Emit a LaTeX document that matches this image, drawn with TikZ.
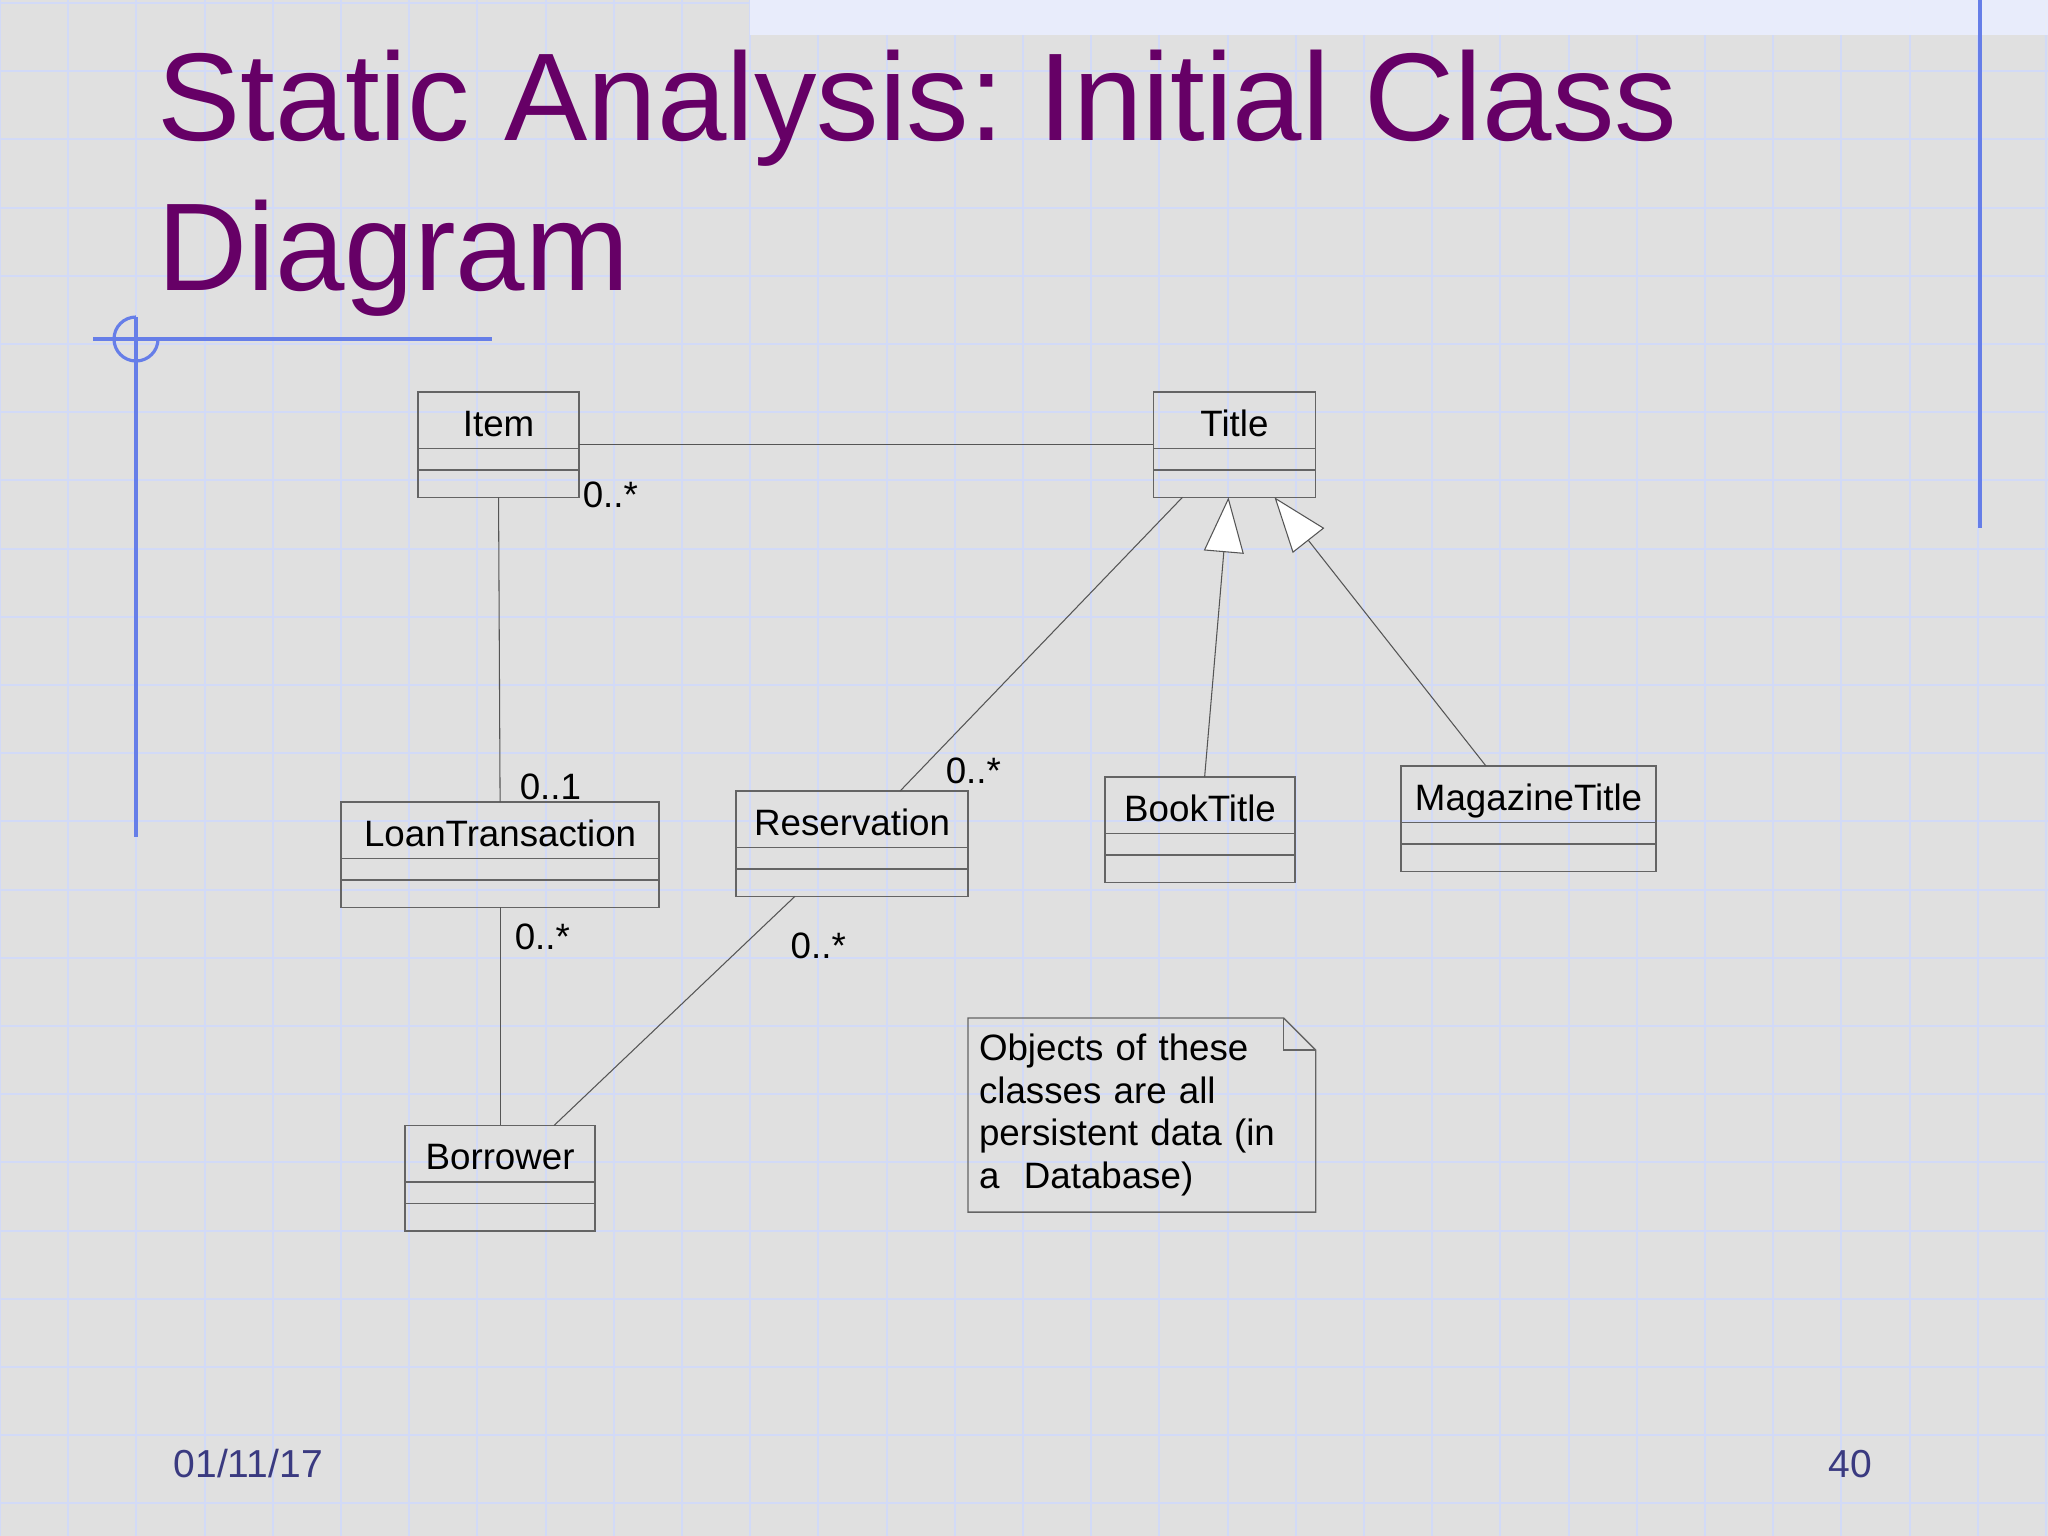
\documentclass[tikz,border=0pt]{standalone}
\usepackage{fontspec}
\setmainfont{Liberation Sans}
\usetikzlibrary{arrows.meta,positioning,shapes.multipart,calc}

\definecolor{slidebg}{RGB}{224,224,224}
\definecolor{gridblue}{RGB}{210,218,247}
\definecolor{rulerblue}{RGB}{102,126,232}
\definecolor{titlepurple}{RGB}{102,0,102}
\definecolor{footblue}{RGB}{58,58,128}
\definecolor{boxgray}{RGB}{100,100,100}
\definecolor{bandblue}{RGB}{232,236,251}

\newcommand{\clsfont}{\fontsize{10.44pt}{12.15pt}\selectfont}
% class name plus two empty compartments
\newcommand{\cls}[1]{\rule[-1.15mm]{0pt}{5.5mm}#1\nodepart{two}\rule{0pt}{2.0mm}\nodepart{three}\rule{0pt}{2.55mm}}

\tikzset{
    %Define standard arrow tip
    >={Triangle[length=5.5mm,width=4mm,fill=white]},
    %Define style for class boxes
    umlclass/.style={
           rectangle split,
           rectangle split parts=3,
           draw=boxgray, line width=0.45pt,
           inner xsep=0pt, inner ysep=0pt, outer sep=0pt,
           text width=#1,
           align=center,
           font=\clsfont,
           anchor=north west},
    % Define style for the note
    notebox/.style={
           inner xsep=1.1mm, inner ysep=0pt, outer sep=0pt,
           align=left,
           font=\clsfont,
           anchor=north west},
    notedraw/.style={draw=boxgray, line width=0.4pt},
    % multiplicities
    mult/.style={font=\clsfont, inner sep=0pt, anchor=base west},
    % Define connector styles
    assoc/.style={draw=boxgray!85!black, line width=0.3pt},
    inherit/.style={assoc, ->},
    gridline/.style={draw=gridblue, line width=0.6pt},
    ruler/.style={draw=rulerblue, line width=0.9pt},
    slidetitle/.style={font=\fontsize{35.5pt}{42pt}\selectfont\frenchspacing, text=titlepurple, inner sep=0pt, anchor=base west},
    footer/.style={font=\fontsize{11.1pt}{13pt}\selectfont, text=footblue, inner sep=0pt, anchor=base west}
}

\begin{document}
\begin{tikzpicture}[x=0.01cm,y=-0.01cm]
\useasboundingbox (0,0) rectangle (2048,1536);
% slide background
\fill[slidebg] (0,0) rectangle (2048,1536);
\foreach \i in {0,...,30}
    \draw[gridline] (\i*68.2,0) -- (\i*68.2,1536);
\foreach \j in {0,...,22}
    \draw[gridline] (0,3+\j*68.2) -- (2048,3+\j*68.2);
\fill[bandblue] (750,0) rectangle (2048,35);
\draw[ruler] (93,339) -- (492,339);
\draw[ruler] (136,317) -- (136,837);
\draw[ruler] (136,317) arc[start angle=90,end angle=360,radius=2.2mm];
\draw[ruler] (1980,0) -- (1980,528);

\node[slidetitle] (head) at (157,140) {Static Analysis: Initial Class};
\node[slidetitle] (head2) at (157,290) {Diagram};

% classes
\node[umlclass=1.61cm] (Item) at (418,392) {\cls{Item}};
\node[umlclass=1.62cm] (Title) at ([xshift=5.74cm]Item.north east) {\cls{Title}};
\node[umlclass=3.18cm] (LoanTransaction) at (341,802) {\cls{LoanTransaction}};
\node[umlclass=1.90cm, anchor=north] (Borrower) at ([yshift=-2.18cm]LoanTransaction.south) {\cls{Borrower}};
\node[umlclass=2.32cm] (Reservation) at (736,791) {\cls{Reservation}};
\node[umlclass=1.90cm] (BookTitle) at (1105,777) {\cls{BookTitle}};
\node[umlclass=2.55cm] (MagazineTitle) at (1401,766) {\cls{MagazineTitle}};

% note
\node[notebox, text width=3.255cm, minimum height=1.94cm] (note) at (968,1018)
    {Objects of these\\classes are all\\persistent data (in\\a\ \ Database)};
\draw[notedraw] (note.north west) -- ([xshift=-3.2mm]note.north east) -- ([yshift=-3.2mm]note.north east)
    -- (note.south east) -- (note.south west) -- cycle;
\draw[notedraw] ([xshift=-3.2mm]note.north east) |- ([yshift=-3.2mm]note.north east);

% associations
\path[assoc]
    ([yshift=-5.2mm]Item.north east) edge ([yshift=-5.2mm]Title.north west)
    (Item.south) edge (LoanTransaction.north)
    (LoanTransaction.south) edge (Borrower.north);
\draw[assoc] ($(Reservation.south west)!0.254!(Reservation.south east)$) -- ($(Borrower.north west)!0.784!(Borrower.north east)$);
\draw[assoc] ($(Reservation.north west)!0.707!(Reservation.north east)$) -- ($(Title.south west)!0.179!(Title.south east)$);
% generalisations
\draw[inherit] ($(BookTitle.north west)!0.524!(BookTitle.north east)$) -- ($(Title.south west)!0.463!(Title.south east)$);
\draw[inherit] ($(MagazineTitle.north west)!0.333!(MagazineTitle.north east)$) -- ($(Title.south west)!0.747!(Title.south east)$);

% multiplicities
\node[mult] (mItem) at ([shift={(0.3mm,-1.0mm)}]Item.south east) {0..*};
\node[mult] (mLoanTop) at ([shift={(1.9mm,0.3mm)}]LoanTransaction.north) {0..1};
\node[mult] (mLoanBot) at ([shift={(1.4mm,-4.2mm)}]LoanTransaction.south) {0..*};
\node[mult] (mResBot) at ([shift={(-6.2mm,-6.2mm)}]Reservation.south) {0..*};
\node[mult] (mResTop) at ([shift={(-2.3mm,0.8mm)}]Reservation.north east) {0..*};

% footer
\node[footer] (date) at (173,1477) {01/11/17};
\node[footer] (page) at (1828,1477) {40};
\end{tikzpicture}
\end{document}
